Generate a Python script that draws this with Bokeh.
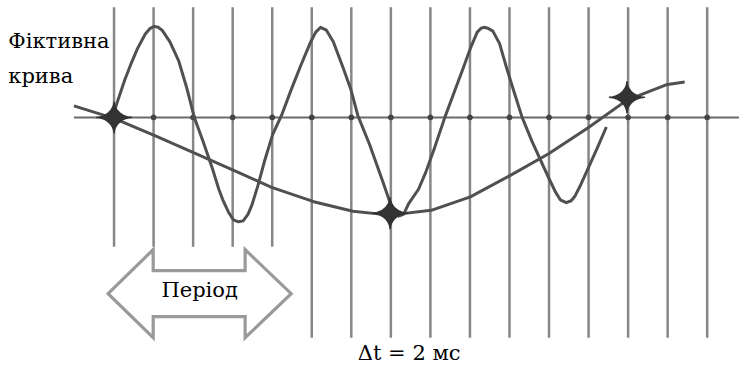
import numpy as np
from bokeh.plotting import figure
from bokeh.models import Range1d
from bokeh.core.properties import value
from bokeh.embed import file_html
from bokeh.resources import INLINE

# ---- data (time in ms, amplitude in arbitrary units) ----
sample_t = [0, 2, 4, 6, 8, 10, 12, 14, 16, 18, 20, 22, 24, 26, 28, 30]
short_bars = 5  # the first sampling lines stop above the "period" arrow

sine_t = [-0.10, 0.10, 0.54, 0.84, 1.19, 1.58, 1.83, 2.03, 2.23, 2.43, 2.82, 3.27,
          3.66, 4.06, 4.50, 5.00, 5.30, 5.50, 5.79, 6.04, 6.29, 6.53, 6.78, 6.98,
          7.28, 7.62, 8.02, 8.47, 8.96, 9.46, 9.95, 10.20, 10.45, 10.74, 11.09, 11.58,
          11.98, 12.33, 12.92, 13.56, 13.91, 14.16, 14.41, 14.65, 14.90, 15.40, 15.79,
          16.19, 16.73, 17.18, 17.67, 18.02, 18.37, 18.56, 18.71, 18.91, 19.16, 19.50,
          19.85, 20.15, 20.64, 21.14, 21.49, 21.98, 22.33, 22.57, 22.87, 23.12, 23.32,
          23.61, 23.96, 24.46, 24.90]
sine_v = [-0.03, 0.12, 0.39, 0.55, 0.72, 0.87, 0.93, 0.95, 0.94, 0.91, 0.79, 0.59,
          0.32, 0.00, -0.25, -0.55, -0.75, -0.86, -0.99, -1.07, -1.09, -1.08, -1.01, -0.91,
          -0.71, -0.45, -0.18, 0.02, 0.29, 0.55, 0.79, 0.89, 0.94, 0.91, 0.79, 0.52,
          0.29, 0.02, -0.28, -0.65, -0.86, -0.98, -1.03, -1.01, -0.90, -0.75, -0.56,
          -0.33, 0.00, 0.25, 0.52, 0.72, 0.89, 0.93, 0.94, 0.93, 0.90, 0.77,
          0.52, 0.32, 0.00, -0.25, -0.41, -0.63, -0.78, -0.86, -0.89, -0.87, -0.82,
          -0.70, -0.54, -0.31, -0.10]

alias_t = [-2.03, 0.00, 2.18, 4.16, 6.14, 7.97, 10.10, 12.08, 13.96, 16.04, 18.02,
           20.00, 21.98, 23.96, 25.94, 27.92, 28.86]
alias_v = [0.12, -0.01, -0.20, -0.38, -0.56, -0.73, -0.88, -0.98, -1.02, -0.97, -0.83,
           -0.61, -0.38, -0.11, 0.18, 0.34, 0.37]

star_t = [0.0, 13.96, 25.94]
star_v = [0.0, -1.00, 0.21]

axis_t = [-2.03, 32.0]

period_tips = [-0.30, 8.96]
period_heads = [1.98, 6.63]
period_center = -1.84

label_text = ["Фіктивна", "крива"]
period_text = "Період"
dt_text = "Δt = 2 мс"

# ---- figure ----
W, H = 739, 366
x0, x1 = -5.743, 31.634
y0, y1 = -2.60, 1.22
sx = W / (x1 - x0)
sy = H / (y1 - y0)

p = figure(width=W, height=H, output_backend="svg", toolbar_location=None,
           x_range=Range1d(x0, x1), y_range=Range1d(y0, y1), min_border=0)
p.axis.visible = False
p.grid.visible = False
p.outline_line_color = None
p.background_fill_color = "white"
p.border_fill_color = "white"

# sampling lines
bottoms = [-1.35 if i < short_bars else -2.30 for i in range(len(sample_t))]
p.segment(x0=sample_t, y0=bottoms, x1=sample_t, y1=[1.15] * len(sample_t),
          line_color="#7a7a7a", line_width=2.5, line_alpha=0.9)

# zero axis
p.line(axis_t, [0, 0], line_color="#6a6a6a", line_width=2)
p.scatter(sample_t, [0] * len(sample_t), size=5, color="#444444")

# period arrow
a, b = period_tips
ha, hb = period_heads
c = period_center
sh, hh = 0.24, 0.46
ax = [a, ha, ha, hb, hb, b, hb, hb, ha, ha]
ay = [c, c + hh, c + sh, c + sh, c + hh, c, c - hh, c - sh, c - sh, c - hh]
p.patch(ax, ay, fill_color="white", line_color="#9a9a9a", line_width=3.2,
        line_join="miter")

# curves
p.line(alias_t, alias_v, line_color="#505050", line_width=3, line_join="round")
p.line(sine_t, sine_v, line_color="#505050", line_width=3, line_join="round")

# four-pointed star markers
th = np.linspace(0, 2 * np.pi, 73)
cs, sn = np.cos(th), np.sin(th)
pw = 3.5
ux = np.sign(cs) * np.abs(cs) ** pw * 18 / sx
uy = np.sign(sn) * np.abs(sn) ** pw * 16 / sy
xs = [list(t + ux) for t in star_t]
ys = [list(v + uy) for v in star_v]
p.patches(xs, ys, fill_color="#333333", line_color="#333333", line_width=1.5)
p.scatter(star_t, star_v, size=11, color="#333333")

dy = 8 / sy  # renderer places the baseline a few px low
font = value("DejaVu Serif")
common = dict(text_font=font, text_font_size="21px", text_baseline="alphabetic",
              text_color="black")
p.text(x=[-5.35, -5.35], y=[0.71 + dy, 0.35 + dy], text=label_text,
       text_align="left", **common)
p.text(x=[(a + b) / 2], y=[-1.89 + dy], text=[period_text],
       text_align="center", **common)
p.text(x=[12.33], y=[-2.54 + dy], text=[dt_text],
       text_align="left", **common)

open("out.html", "w").write(file_html(p, INLINE))
